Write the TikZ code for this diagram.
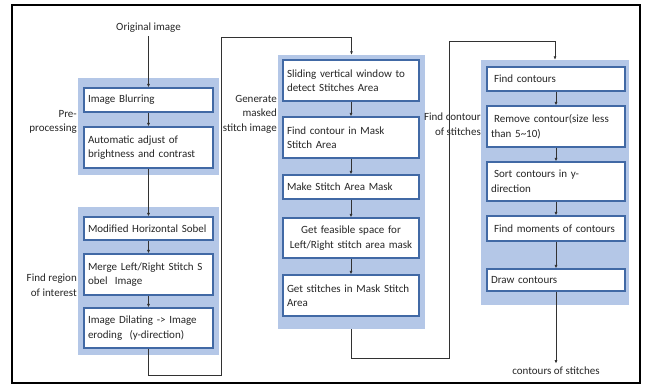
\documentclass[tikz,border=0pt]{standalone}
\usepackage{fontspec}
\setmainfont{Carlito}
\usepackage{xcolor}
\usepackage{tikz}
\usetikzlibrary{arrows.meta}

\definecolor{grpblue}{RGB}{180,199,231}
\definecolor{boxline}{RGB}{65,105,165}
\definecolor{lineg}{RGB}{50,50,50}

\begin{document}
\begin{tikzpicture}[x=1pt, y=-1pt,
        every node/.style={font=\fontsize{11}{14.5}\selectfont, text=black!85},
        grp/.style={fill=grpblue, draw=none, inner sep=0pt},
        box/.style={draw=boxline, line width=1.1pt, fill=white, inner xsep=4pt, inner ysep=0pt, align=left},
        lbl/.style={anchor=east, align=right, inner sep=0pt},
        conn/.style={draw=lineg, line width=0.8pt},
        arr/.style={conn, -{Latex[length=3.5pt,width=3pt]}}]
        \useasboundingbox (0,0) rectangle (645,391);
        \draw[line width=1.2pt] (12,5) rectangle (640,383);
        \node[grp, minimum width=141pt, minimum height=97pt] (g1) at (148.5,126.5) {};
        \node[grp, minimum width=141pt, minimum height=148pt] (g2) at (148.5,281) {};
        \node[grp, minimum width=147pt, minimum height=274pt] (g3) at (351.5,192) {};
        \node[grp, minimum width=148pt, minimum height=245pt] (g4) at (555,182.5) {};
        \node (orig) at (148.5,28) {Original image};
        \node[box, minimum width=129pt, minimum height=24pt, text width=121pt] (b11) at (148.5,100) {Image Blurring};
        \node[box, minimum width=129pt, minimum height=41pt, text width=121pt] (b12) at (148.5,147.5) {Automatic adjust of\\brightness and contrast};
        \node[box, minimum width=129pt, minimum height=23pt, text width=121pt] (b13) at (148.5,228.5) {Modified Horizontal Sobel};
        \node[box, minimum width=129pt, minimum height=41pt, text width=121pt] (b14) at (148.5,274.5) {Merge Left/Right Stitch S\\obel~ Image};
        \node[box, minimum width=129pt, minimum height=40pt, text width=121pt] (b15) at (148.5,328) {Image Dilating -> Image\\eroding~ (y-direction)};
        \node[box, minimum width=136pt, minimum height=41pt, text width=128pt] (b21) at (351,80.5) {Sliding vertical window to\\detect Stitches Area};
        \node[box, minimum width=136pt, minimum height=41pt, text width=128pt] (b22) at (351,137.5) {Find contour in Mask\\Stitch Area};
        \node[box, minimum width=136pt, minimum height=24pt, text width=128pt] (b23) at (351,187) {Make Stitch Area Mask};
        \node[box, minimum width=136pt, minimum height=40pt, text width=128pt, align=center] (b24) at (351,238) {Get feasible space for\\Left/Right stitch area mask};
        \node[box, minimum width=136pt, minimum height=41pt, text width=128pt] (b25) at (351,295.5) {Get stitches in Mask Stitch\\Area};
        \node[box, minimum width=138pt, minimum height=24pt, text width=130pt] (b31) at (556,79) {\hspace{3pt}Find contours};
        \node[box, minimum width=138pt, minimum height=41pt, text width=130pt] (b32) at (556,126.5) {\hspace{3pt}Remove contour(size less\\than 5\textasciitilde10)};
        \node[box, minimum width=138pt, minimum height=39pt, text width=130pt] (b33) at (556,181.5) {\hspace{3pt}Sort contours in y-\\direction};
        \node[box, minimum width=138pt, minimum height=25pt, text width=130pt] (b34) at (556,228.5) {\hspace{3pt}Find moments of contours};
        \node[box, minimum width=138pt, minimum height=22pt, text width=130pt] (b35) at (556,280) {Draw contours};
        \node (out) at (556,371) {contours of stitches};
        \node[lbl] (l1) at (77,122) {Pre-\\processing};
        \node[lbl] (l2) at (77,285) {Find region\\of interest};
        \node[lbl] (l3) at (277,114) {Generate\\masked\\stitch image};
        \node[lbl] (l4) at (481,124) {Find contour\\of stitches};
        \coordinate (c1) at (221,375);
        \coordinate (c2) at (221,37);
        \coordinate (c3) at (449,358);
        \coordinate (c4) at (449,41);
        \draw[arr] (orig) -- (b11);
        \draw[arr] (b11) -- (b12);
        \draw[arr] (b12) -- (b13);
        \draw[arr] (b13) -- (b14);
        \draw[arr] (b14) -- (b15);
        \draw[arr] (b15.south) |- (c1) -- (c2) -| (g3.north);
        \draw[arr] (b21) -- (b22);
        \draw[arr] (b22) -- (b23);
        \draw[arr] (b23) -- (b24);
        \draw[arr] (b24) -- (b25);
        \draw[arr] (g3.south) |- (c3) -- (c4) -| (g4.north);
        \draw[arr] (b31) -- (b32);
        \draw[arr] (b32) -- (b33);
        \draw[arr] (b33) -- (b34);
        \draw[arr] (b34) -- (b35);
        \draw[arr] (b35) -- (out);
    \end{tikzpicture}
\end{document}
